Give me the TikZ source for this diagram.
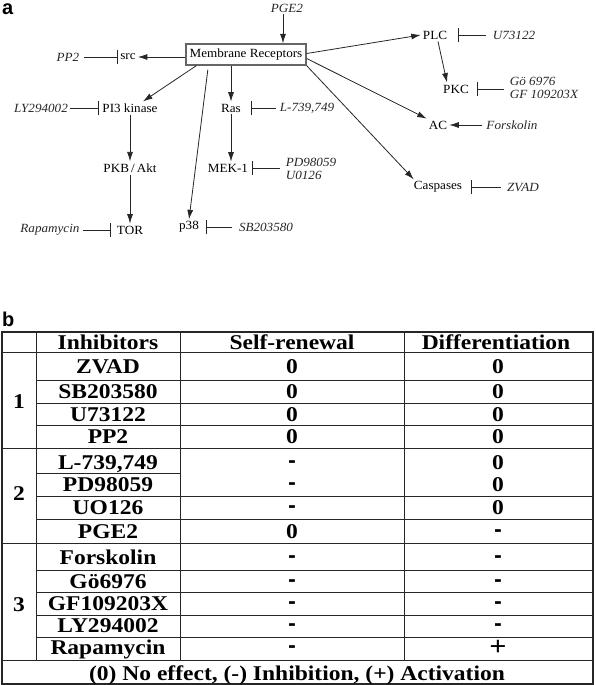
\documentclass[tikz,border=0pt]{standalone}
\usepackage{fontspec}
\usepackage{graphicx}
\setmainfont{Liberation Serif}
\setsansfont{Liberation Sans}
\newfontfamily\tabfont[FakeStretch=1.12]{Liberation Serif}
\newfontfamily\diafont[FakeStretch=1.05]{Liberation Serif}
\newfontfamily\dashfont{DejaVu Sans}
\usetikzlibrary{arrows.meta}
\begin{document}
\begin{tikzpicture}[x=1pt,y=-1pt,
  mol/.style={font=\diafont\fontsize{12.5}{13}\selectfont, inner sep=2pt, text=black},
  drug/.style={font=\diafont\fontsize{12.5}{12.5}\selectfont\itshape, inner sep=2pt, text=black!85, align=left},
  act/.style={draw=black!85, line width=0.8pt, -{Latex[length=9.5pt,width=6pt]}},
  inh/.style={draw=black!85, line width=0.8pt, -{Bar[width=14pt,line width=1pt]}},
  panel/.style={font=\sffamily\bfseries\fontsize{20}{20}\selectfont, inner sep=0pt, anchor=base west},
  cell/.style={font=\tabfont\fontsize{21}{22}\selectfont\bfseries, inner sep=0pt, anchor=base},
  rulel/.style={draw=black!85, line width=0.9pt},
  outer/.style={draw=black!85, line width=1.4pt}
]
\useasboundingbox (0,0) rectangle (595,685);

% ---------------- panel a ----------------
\node[panel] (la) at (2,14.5) {a};
\node[mol, draw=black!60, line width=1.3pt, minimum width=120pt, minimum height=21pt, inner sep=1pt] (mr) at (246,54.5) {Membrane Receptors};
\node[drug] (pge2) at (287,8) {PGE2};
\node[mol] (src) at (128,57) {src};
\node[drug] (pp2) at (68,57) {PP2};
\node[mol] (pi3) at (130,108) {PI3 kinase};
\node[drug] (ly) at (41,108) {LY294002};
\node[mol] (ras) at (231,108) {Ras};
\node[drug] (l739) at (307,108) {L-739,749};
\node[mol] (pkb) at (130,168) {PKB\,/\,Akt};
\node[mol] (tor) at (130,230) {TOR};
\node[drug] (rapa) at (50,230) {Rapamycin};
\node[mol] (mek) at (228,168) {MEK-1};
\node[drug] (pdu) at (311,169) {PD98059\\U0126};
\node[mol] (p38) at (189,227) {p38};
\node[drug] (sb) at (266,227) {SB203580};
\node[mol] (plc) at (435,35) {PLC};
\node[drug] (u73) at (514,35) {U73122};
\node[mol] (pkc) at (456,89) {PKC};
\node[drug] (go) at (544,88) {Gö 6976\\GF 109203X};
\node[mol] (ac) at (438,125) {AC};
\node[drug] (forsk) at (512,125) {Forskolin};
\node[mol] (casp) at (438,187) {Caspases};
\node[drug] (zvad) at (523,187) {ZVAD};

\draw[act] ([xshift=-4pt]pge2.south) -- ([xshift=-4pt]pge2.south |- mr.north);
\draw[act] ([yshift=-2.5pt]mr.west) -- (src.east);
\draw[act] ([xshift=11pt]mr.south west) -- ([xshift=13pt]pi3.north);
\draw[act] (ras.north |- mr.south) -- (ras.north);
\draw[act, shorten <=4pt] ([xshift=23pt]mr.south west) -- (p38.north);
\draw[act] ([yshift=1pt]mr.east) -- (plc.west);
\draw[act] ([yshift=-4pt]mr.east) -- (ac.north west);
\draw[act] (mr.south east) -- ([xshift=2pt]casp.north west);
\draw[act] ([xshift=3pt]plc.south) -- ([xshift=-9pt]pkc.north);
\draw[act] (pi3.south) -- (pkb.north);
\draw[act] (pkb.south) -- (tor.north);
\draw[act] (ras.south) -- (mek.north -| ras.south);
\draw[act, shorten <=2pt] (forsk.west) -- (ac.east);

\draw[inh, shorten <=3pt] (pp2.east) -- (src.west);
\draw[inh] (ly.east) -- ([xshift=-1pt]pi3.west);
\draw[inh, shorten <=2pt, shorten >=8pt] (l739.west) -- (ras.east);
\draw[inh, shorten <=4pt, shorten >=2pt] (pdu.west |- mek.east) -- (mek.east);
\draw[inh, shorten <=5pt, shorten >=5pt] (sb.west) -- (p38.east);
\draw[inh, shorten <=1pt, shorten >=4pt] (rapa.east) -- (tor.west);
\draw[inh, shorten <=5pt, shorten >=9pt] (u73.west) -- (plc.east);
\draw[inh, shorten <=4pt, shorten >=6pt] (go.west |- pkc.east) -- (pkc.east);
\draw[inh, shorten <=4pt, shorten >=7pt] (zvad.west) -- (casp.east);

% ---------------- panel b ----------------
\node[panel] (lb) at (2,326) {b};
\draw[outer] (2,332) rectangle (593,684);
\foreach \yy in {352,448,543,660} \draw[rulel] (2,\yy) -- (593,\yy);
\foreach \yy in {380,403,425,496,519,570,592,615,637} \draw[rulel] (36,\yy) -- (593,\yy);
\draw[rulel] (36,473) -- (180,473);
\foreach \xx in {36,180,404} \draw[rulel] (\xx,332) -- (\xx,660);

\node[cell] (hinh) at (108,349) {Inhibitors};
\node[cell] (hsr) at (292,349) {Self-renewal};
\node[cell] (hdiff) at (496,349) {Differentiation};

\newcommand{\dsh}{\raisebox{2pt}{\dashfont\bfseries\fontsize{19}{20}\selectfont -}}
\newcommand{\pls}{\raisebox{-1pt}{\fontsize{27}{28}\selectfont +}}
\foreach \i/\yy/\nm/\sr/\df in {
  1/373/ZVAD/0/0,
  2/398/SB203580/0/0,
  3/421/U73122/0/0,
  4/443/PP2/0/0,
  5/469/{L-739,749}/\dsh/0,
  6/491/PD98059/\dsh/0,
  7/514/UO126/\dsh/0,
  8/538/PGE2/0/\dsh,
  9/564/Forskolin/\dsh/\dsh,
  10/588/Gö6976/\dsh/\dsh,
  11/610/GF109203X/\dsh/\dsh,
  12/632/LY294002/\dsh/\dsh,
  13/654/Rapamycin/\dsh/\pls}{
  \node[cell] (inh\i) at (108,\yy) {\nm};
  \node[cell] (sr\i) at (292,\yy) {\sr};
  \node[cell] (df\i) at (498,\yy) {\df};
}
\node[cell] (g1) at (19,408) {1};
\node[cell] (g2) at (19,500) {2};
\node[cell] (g3) at (19,611) {3};
\node[cell] (foot) at (297,680) {(0) No effect, (-) Inhibition, (+) Activation};
\end{tikzpicture}
\end{document}
